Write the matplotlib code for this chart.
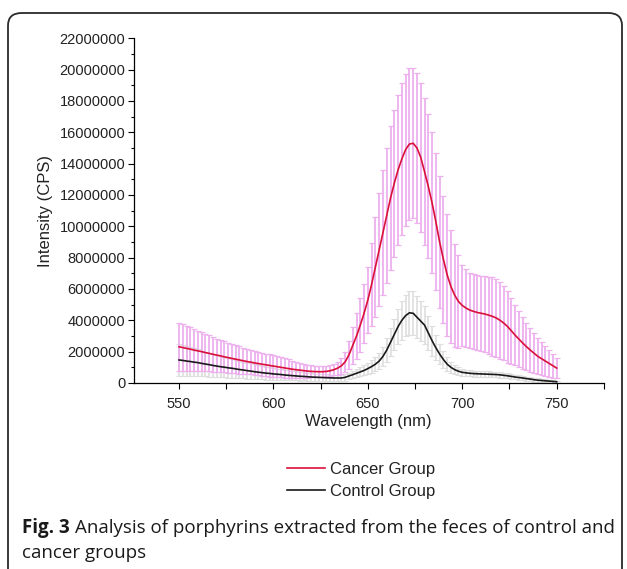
import numpy as np
import matplotlib
matplotlib.use("Agg")
import matplotlib.pyplot as plt
from matplotlib.patches import FancyBboxPatch
from matplotlib.ticker import MultipleLocator

# ---------------- data (intensity in millions of CPS) ----------------
wavelength = np.arange(550, 751, 2)

cancer_mean = [
    2.31, 2.26, 2.21, 2.16, 2.10, 2.05, 2.00, 1.94, 1.89, 1.83,
    1.78, 1.73, 1.67, 1.62, 1.57, 1.52, 1.47, 1.42, 1.37, 1.33,
    1.28, 1.24, 1.20, 1.16, 1.12, 1.08, 1.04, 1.00, 0.96, 0.92,
    0.88, 0.85, 0.82, 0.79, 0.76, 0.74, 0.73, 0.72, 0.72, 0.74,
    0.78, 0.85, 0.95, 1.10, 1.35, 1.80, 2.40, 3.00, 3.70, 4.45,
    5.30, 6.30, 7.40, 8.50, 9.60, 10.70, 11.80, 12.75, 13.60, 14.30,
    14.90, 15.25, 15.30, 15.00, 14.40, 13.50, 12.55, 11.50, 10.30, 9.00,
    7.90, 6.90, 6.15, 5.60, 5.20, 4.95, 4.78, 4.65, 4.57, 4.50,
    4.45, 4.40, 4.33, 4.25, 4.15, 4.00, 3.82, 3.60, 3.33, 3.05,
    2.80, 2.55, 2.32, 2.10, 1.90, 1.70, 1.55, 1.40, 1.25, 1.10,
    0.95,
]
cancer_sd = [
    1.52, 1.48, 1.43, 1.39, 1.35, 1.30, 1.25, 1.20, 1.15, 1.10,
    1.05, 1.02, 0.99, 0.96, 0.93, 0.90, 0.87, 0.84, 0.81, 0.78,
    0.75, 0.74, 0.73, 0.72, 0.71, 0.70, 0.67, 0.64, 0.61, 0.58,
    0.55, 0.52, 0.48, 0.45, 0.41, 0.38, 0.37, 0.36, 0.35, 0.35,
    0.35, 0.37, 0.42, 0.50, 0.65, 0.90, 1.20, 1.45, 1.70, 1.90,
    2.10, 2.65, 3.20, 3.60, 4.00, 4.30, 4.60, 4.70, 4.80, 4.85,
    4.85, 4.85, 4.80, 4.80, 4.75, 4.70, 4.60, 4.50, 4.35, 4.20,
    4.05, 3.90, 3.60, 3.30, 2.95, 2.60, 2.48, 2.40, 2.40, 2.40,
    2.40, 2.42, 2.46, 2.50, 2.48, 2.45, 2.38, 2.30, 2.10, 1.90,
    1.78, 1.65, 1.52, 1.40, 1.27, 1.15, 1.05, 0.95, 0.85, 0.75,
    0.64,
]
control_mean = [
    1.47, 1.44, 1.40, 1.37, 1.33, 1.30, 1.25, 1.21, 1.17, 1.12,
    1.08, 1.04, 1.01, 0.97, 0.94, 0.90, 0.86, 0.83, 0.79, 0.76,
    0.72, 0.69, 0.66, 0.63, 0.61, 0.58, 0.56, 0.54, 0.51, 0.49,
    0.47, 0.45, 0.43, 0.42, 0.40, 0.38, 0.37, 0.36, 0.35, 0.34,
    0.33, 0.32, 0.32, 0.32, 0.36, 0.45, 0.53, 0.62, 0.71, 0.80,
    0.92, 1.05, 1.20, 1.40, 1.70, 2.10, 2.60, 3.10, 3.60, 4.00,
    4.30, 4.48, 4.45, 4.20, 3.95, 3.70, 3.20, 2.70, 2.25, 1.85,
    1.50, 1.20, 1.00, 0.85, 0.75, 0.68, 0.65, 0.62, 0.60, 0.59,
    0.58, 0.57, 0.56, 0.55, 0.54, 0.52, 0.49, 0.46, 0.42, 0.38,
    0.35, 0.32, 0.28, 0.25, 0.21, 0.18, 0.16, 0.14, 0.12, 0.10,
    0.08,
]
control_sd = [
    1.00, 0.97, 0.94, 0.91, 0.88, 0.85, 0.82, 0.79, 0.76, 0.73,
    0.70, 0.68, 0.65, 0.63, 0.60, 0.58, 0.56, 0.54, 0.51, 0.49,
    0.47, 0.45, 0.43, 0.42, 0.40, 0.38, 0.36, 0.35, 0.33, 0.32,
    0.30, 0.29, 0.28, 0.26, 0.25, 0.24, 0.23, 0.22, 0.21, 0.21,
    0.20, 0.20, 0.20, 0.21, 0.21, 0.22, 0.24, 0.26, 0.29, 0.32,
    0.35, 0.39, 0.44, 0.50, 0.62, 0.75, 0.88, 1.00, 1.12, 1.25,
    1.33, 1.40, 1.40, 1.35, 1.28, 1.20, 1.08, 0.95, 0.80, 0.65,
    0.55, 0.45, 0.37, 0.30, 0.25, 0.22, 0.21, 0.20, 0.19, 0.19,
    0.18, 0.18, 0.18, 0.17, 0.17, 0.17, 0.16, 0.16, 0.15, 0.15,
    0.14, 0.13, 0.13, 0.12, 0.12, 0.11, 0.10, 0.09, 0.09, 0.08,
    0.07,
]

x_ticks = [550, 600, 650, 700, 750]
y_ticks = [0, 2000000, 4000000, 6000000, 8000000, 10000000, 12000000,
           14000000, 16000000, 18000000, 20000000, 22000000]
y_tick_labels = [str(v) for v in y_ticks]
series_names = ["Cancer Group", "Control Group"]

scale = 1e6
cm = np.array(cancer_mean) * scale
cs = np.array(cancer_sd) * scale
km = np.array(control_mean) * scale
ks = np.array(control_sd) * scale

# ---------------- figure ----------------
W, H = 627, 569
fig = plt.figure(figsize=(W / 100, H / 100), dpi=100)

frame = FancyBboxPatch((8 / W, -30 / H), (614 / W), (H - 13 + 30) / H,
                       boxstyle="round,pad=0,rounding_size=0.022",
                       transform=fig.transFigure, fill=False,
                       edgecolor="#2a2a2a", linewidth=1.3, zorder=0)
fig.patches.append(frame)

ax = fig.add_axes([133.7 / W, 1 - 383 / H, (603.9 - 133.7) / W, (383 - 38.3) / H])

# control error bars
eb2 = ax.errorbar(wavelength, km, yerr=ks, fmt="none", ecolor="#dedede",
                  elinewidth=1.2, capsize=2.4, capthick=0.8, zorder=2)
for c in eb2[1]:
    c.set_color("#bdbdbd")

# cancer error bars
eb1 = ax.errorbar(wavelength, cm, yerr=cs, fmt="none", ecolor="#eeb0ee",
                  elinewidth=1.3, capsize=2.4, capthick=0.9, zorder=3)
for c in eb1[1]:
    c.set_color("#d84ad6")

l1, = ax.plot(wavelength, cm, color="#d9103a", lw=1.2, zorder=5)
l2, = ax.plot(wavelength, km, color="#1a1a1a", lw=1.2, zorder=6)

ax.set_xlim(526, 775)
ax.set_ylim(0, 22000000)
ax.set_xticks(x_ticks)
ax.set_xticklabels([str(v) for v in x_ticks])
ax.xaxis.set_minor_locator(MultipleLocator(25))
ax.set_yticks(y_ticks)
ax.set_yticklabels(y_tick_labels)
ax.yaxis.set_minor_locator(MultipleLocator(1000000))

for s in ["top", "right"]:
    ax.spines[s].set_visible(False)
for s in ["left", "bottom"]:
    ax.spines[s].set_linewidth(0.9)

font = "Liberation Sans"
ax.tick_params(axis="both", which="major", direction="out", length=4,
               width=0.8, labelsize=10.5, pad=2)
ax.tick_params(axis="y", which="minor", direction="out", length=2.5, width=0.8)
ax.tick_params(axis="x", which="minor", direction="out", length=4, width=0.8)
ax.tick_params(axis="x", which="major", pad=6)
for lab in ax.get_xticklabels() + ax.get_yticklabels():
    lab.set_fontfamily(font)
    lab.set_color("#222222")

ax.set_xlabel("Wavelength (nm)", fontfamily=font, fontsize=12, labelpad=2,
              color="#222222")
ax.set_ylabel("Intensity (CPS)", fontfamily=font, fontsize=12, labelpad=5,
              color="#222222")

leg = fig.legend([l1, l2], series_names, loc="upper left",
                 bbox_to_anchor=(280 / W, 1 - 455 / H), frameon=False,
                 prop={"family": font, "size": 12}, handlelength=2.3,
                 handletextpad=0.3, labelspacing=0.42, borderaxespad=0)
for t in leg.get_texts():
    t.set_color("#222222")

# caption
cap_font = "Open Sans"
cap_size = 13.5
t0 = fig.text(22 / W, 1 - 528 / H, "Fig. 3", fontfamily=cap_font, fontweight="bold",
              fontsize=cap_size, va="center", ha="left", color="#1a1a1a")
fig.canvas.draw()
bb = t0.get_window_extent(renderer=fig.canvas.get_renderer())
fig.text((bb.x1 + 5) / W, 1 - 528 / H,
         "Analysis of porphyrins extracted from the feces of control and",
         fontfamily=cap_font, fontsize=cap_size, va="center", ha="left",
         color="#1a1a1a")
fig.text(22 / W, 1 - 553 / H, "cancer groups", fontfamily=cap_font,
         fontsize=cap_size, va="center", ha="left", color="#1a1a1a")

fig.savefig("out.png", dpi=100)
